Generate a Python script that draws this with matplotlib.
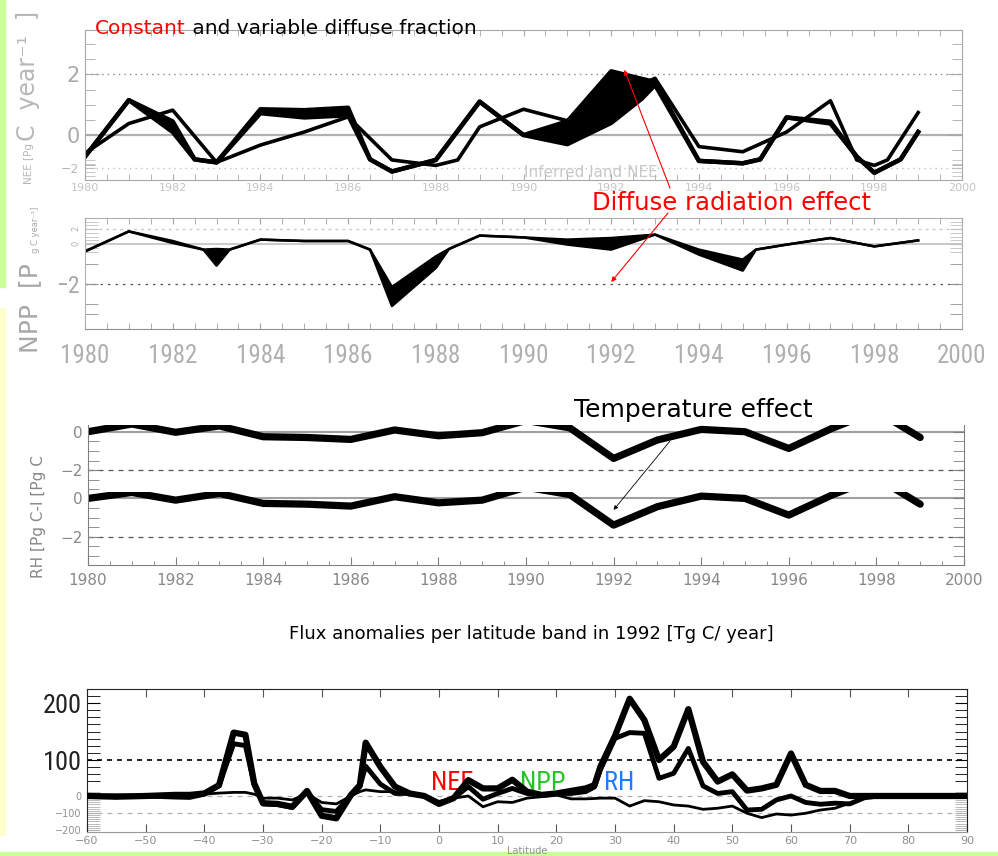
import numpy as np
import matplotlib
matplotlib.use("Agg")
from matplotlib import pyplot as plt
from matplotlib import font_manager
from matplotlib.patches import Rectangle
from matplotlib.ticker import MultipleLocator, FixedLocator

# ---- values ----
# top panel: NEE anomaly [Pg C / yr], constant vs variable diffuse fraction
nee_years = [1980, 1981, 1982, 1982.5, 1983, 1984, 1985, 1986, 1986.5, 1987, 1988, 1989,
             1990, 1991, 1992, 1992.7, 1993, 1994, 1995, 1995.4, 1996, 1997, 1997.6,
             1998, 1998.6, 1999]
nee_const = [-0.71, 1.15, 0.45, -0.8, -0.9, 0.85, 0.82, 0.9, -0.8, -1.2, -0.82, 1.1,
             0.0, 0.45, 2.1, 1.85, 1.75, -0.85, -0.93, -0.8, 0.58, 0.44, -0.71,
             -1.24, -0.8, 0.1]
nee_var = [-0.71, 1.15, 0.1, -0.8, -0.9, 0.72, 0.58, 0.65, -0.8, -1.2, -0.82, 1.1,
           0.0, -0.3, 0.4, 1.2, 1.65, -0.85, -0.93, -0.8, 0.58, 0.38, -0.71,
           -1.24, -0.8, 0.1]
# inferred land NEE
inv_years = [1980, 1981, 1982, 1983, 1984, 1985, 1986, 1987, 1988, 1988.5, 1989, 1990,
             1991, 1992, 1993, 1994, 1995, 1996, 1997, 1997.6, 1998, 1998.3, 1999]
inv_nee = [-0.6, 0.38, 0.82, -0.9, -0.33, 0.1, 0.6, -0.82, -1.0, -0.82, 0.27, 0.85,
           0.47, 1.2, 1.87, -0.38, -0.55, 0.1, 1.13, -0.82, -1.0, -0.82, 0.74]

# NPP panel
npp_years = [1980, 1981, 1982, 1982.7, 1983, 1983.3, 1984, 1985, 1986, 1986.5, 1987, 1988,
             1988.3, 1989, 1990, 1991, 1992, 1993, 1994, 1995, 1995.3, 1996, 1997, 1998, 1999]
npp_const = [-0.37, 0.63, 0.15, -0.28, -0.25, -0.28, 0.22, 0.15, 0.15, -0.28, -2.15, -0.62,
             -0.25, 0.42, 0.33, 0.22, 0.3, 0.47, -0.28, -0.78, -0.28, -0.03, 0.3, -0.12, 0.18]
npp_var = [-0.37, 0.63, 0.05, -0.28, -1.08, -0.28, 0.22, 0.15, 0.15, -0.28, -3.1, -1.2,
           -0.25, 0.42, 0.33, -0.03, -0.28, 0.47, -0.53, -1.33, -0.28, -0.03, 0.3, -0.12, 0.18]

# RH panel (two stacked runs)
rh_years = list(range(1980, 2000))
rh_const = [0.0, 0.4, -0.03, 0.3, -0.26, -0.3, -0.4, 0.09, -0.21, -0.05,
            0.585, 0.2, -1.39, -0.43, 0.12, 0.0, -0.87, 0.19, 1.08, -0.3]
rh_var = [0.0, 0.31, -0.09, 0.26, -0.26, -0.3, -0.4, 0.09, -0.23, -0.09,
          0.585, 0.2, -1.39, -0.43, 0.12, 0.0, -0.87, 0.19, 1.08, -0.3]

# latitude band anomalies 1992 [Tg C / yr]
lat = [-60, -55, -50, -45, -42.5, -40, -37.5, -35, -33, -31.5,
       -30, -27.5, -25, -22.5, -20, -17.5, -15, -13.5, -12.5, -10,
       -7.5, -5, -2.5, 0, 2.5, 5, 7.5, 10, 12.5, 15,
       17.5, 20, 22.5, 25, 26.5, 27.5, 30, 32.5, 35, 37.5,
       40, 42.5, 45, 47.5, 50, 52.5, 55, 57.5, 60, 62.5,
       65, 67.5, 70, 72.5, 75, 80, 85, 90]
flux_1 = [0, -2, 0, 3, 3, 7, 30, 176, 170, 35,
          -20, -22, -30, 14, -55, -62, 3, 30, 148, 81,
          26, 7, 0, -22, -6, 44, 21, 21, 45, 12,
          3, 7, 14, 21, 30, 81, 167, 270, 211, 100,
          137, 241, 95, 40, 60, 15, 21, 31, 118, 31,
          14, 14, 0, 0, 0, 0, 0, 0]
flux_2 = [0, 0, 0, -3, -4, 5, 28, 145, 140, 30,
          -22, -24, -32, 12, -38, -43, 3, 25, 83, 33,
          7, 7, 0, -20, -6, 26, -9, 7, 21, 7,
          3, 7, 7, 12, 25, 72, 160, 176, 174, 49,
          63, 132, 28, 7, 12, -39, -37, -11, 0, -18,
          -23, -20, -22, -5, 0, 0, 0, 0]
flux_3 = [0, 2, 0, 0, 2, 5, 8, 10, 10, 5,
          -6, -6, -11, 7, -18, -22, 0, 12, 17, 12,
          12, 7, 3, -15, -6, 0, -30, -16, -18, -6,
          -2, 3, -8, -8, -7, -6, -6, -28, -13, -16,
          -25, -28, -37, -34, -28, -48, -60, -50, -53, -48,
          -39, -34, -20, -5, 0, 0, 0, 0]

year_ticks = list(range(1980, 2001, 2))
year_labels = [str(y) for y in year_ticks]
lat_ticks = list(range(-60, 91, 10))
lat_labels = [str(v).replace('-', '\u2212') for v in lat_ticks]


def pick_font(names):
    for n in names:
        try:
            font_manager.findfont(n, fallback_to_default=False)
            return n
        except ValueError:
            pass
    return 'DejaVu Sans'


narrow = pick_font(['Liberation Sans Narrow', 'Roboto Condensed', 'Liberation Sans'])

W, H = 998, 856
fig = plt.figure(figsize=(W / 100, H / 100), dpi=100)


def box(x0, y0, x1, y1):
    return [x0 / W, 1 - y1 / H, (x1 - x0) / W, (y1 - y0) / H]


def fpos(x, y):
    return (x / W, 1 - y / H)


def overlay(rect, ylim, xlim):
    ax = fig.add_axes(rect, facecolor='none', zorder=1)
    ax.set_xlim(*xlim)
    ax.set_ylim(*ylim)
    for s in ax.spines.values():
        s.set_visible(False)
    ax.tick_params(axis='x', which='both', bottom=False, top=False, labelbottom=False)
    return ax


# slide decoration strips
for (x0, y0, x1, y1, c) in [(0, 0, 5, 287, '#ccff99'), (0, 308, 5, 835, '#ffffcc'),
                            (0, 852, W, H, '#ccff99')]:
    fig.patches.append(Rectangle(fpos(x0, y1), (x1 - x0) / W, (y1 - y0) / H,
                                 transform=fig.transFigure, color=c, zorder=0))

# ---------------- NEE panel ----------------
ax1 = fig.add_axes(box(85, 30, 962, 180), facecolor='none', zorder=2)
ax1.set_xlim(1980, 2000)
ax1.set_ylim(-1.48, 3.46)
ax1.fill_between(nee_years, nee_const, nee_var, color='black', lw=0)
ax1.plot(nee_years, nee_const, color='black', lw=3.2)
ax1.plot(nee_years, nee_var, color='black', lw=3.2)
ax1.plot(inv_years, inv_nee, color='black', lw=2.6)
ax1.axhline(0, color='#b0b0b0', lw=1.6, zorder=0)
ax1.axhline(2, color='#888888', lw=1.0, ls=(0, (1, 3)), zorder=0)
for s in ax1.spines.values():
    s.set_color('#a8a8a8')
ax1.set_yticks([0, 2], labels=['0', '2'], fontsize=15, color='#aaaaaa')
ax1.yaxis.set_minor_locator(MultipleLocator(0.5))
ax1.set_xticks(year_ticks, labels=year_labels, fontsize=8, color='#c4c4c4')
ax1.xaxis.set_minor_locator(MultipleLocator(0.5))
ax1.tick_params(axis='y', which='both', direction='in', left=True, right=True,
                color='#a8a8a8', pad=4)
ax1.tick_params(axis='y', which='major', length=10)
ax1.tick_params(axis='y', which='minor', length=7)
ax1.tick_params(axis='x', which='both', direction='in', top=True, bottom=True,
                length=4, color='#a8a8a8', pad=2)

ax1b = overlay(box(85, 30, 962, 180), (-2.73, 6.36), (1980, 2000))
ax1b.axhline(-2, color='#c0c0c0', lw=1.0, ls=(0, (1, 3)))
ax1b.set_yticks([-2], labels=['\u22122'], fontsize=9, color='#b8b8b8')
ax1b.yaxis.set_minor_locator(FixedLocator([-2.5, -2.25, -1.75, -1.5]))
ax1b.tick_params(axis='y', which='both', direction='in', left=True, right=True,
                 color='#c0c0c0', length=7, pad=4)
ax1b.text(1990, -2.25, 'Inferred land NEE', fontsize=11, color='#c8c8c8',
          ha='left', va='center')

t = fig.text(95 / W, 1 - 28 / H, 'Constant', color='red', fontsize=14.5, va='center')
ax1.annotate(' and variable diffuse fraction', xy=(1, 0), xycoords=t, va='bottom',
             ha='left', fontsize=14.5, color='black')
fig.text(28 / W, 1 - 141 / H, 'C  year\u207b\u00b9  ]', rotation=90, ha='center',
         va='bottom', fontsize=17, color='#b8b8b8')
fig.text(29 / W, 1 - 184 / H, 'NEE [Pg', rotation=90, ha='center', va='bottom',
         fontsize=7.5, color='#b8b8b8')

# ---------------- NPP panel ----------------
ax2 = fig.add_axes(box(85, 218, 962, 329), facecolor='none', zorder=2)
ax2.set_xlim(1980, 2000)
ax2.set_ylim(-4.25, 1.3)
ax2.fill_between(npp_years, npp_const, npp_var, color='black', lw=0)
ax2.plot(npp_years, npp_const, color='black', lw=1.8)
ax2.plot(npp_years, npp_var, color='black', lw=1.8)
ax2.axhline(0, color='#c0c0c0', lw=1.2, zorder=0)
ax2.axhline(-2, color='#555555', lw=0.9, ls=(0, (2, 4)), zorder=0)
for s in ax2.spines.values():
    s.set_color('#b0b0b0')
ax2.spines['bottom'].set_color('#909090')
ax2.set_yticks([-2], labels=['\u22122'], fontsize=17, color='#a8a8a8', family=narrow)
ax2.yaxis.set_minor_locator(FixedLocator([-3.5, -3, -1]))
ax2.set_xticks(year_ticks, labels=year_labels, fontsize=18, color='#b0b0b0', family=narrow)
ax2.xaxis.set_minor_locator(MultipleLocator(0.5))
ax2.tick_params(axis='y', which='both', direction='in', left=True, right=True,
                color='#909090', length=9, pad=4)
ax2.tick_params(axis='x', which='both', direction='in', top=True, bottom=True,
                length=4, color='#a0a0a0', pad=11)

ax2b = overlay(box(85, 218, 962, 329), (-11.33, 3.47), (1980, 2000))
ax2b.axhline(2, color='#c8c8c8', lw=1.0, ls=(0, (2, 3)))
ax2b.set_yticks([0, 2], labels=['0', '2'], fontsize=6, color='#b0b0b0', rotation=90)
ax2b.yaxis.set_minor_locator(FixedLocator(np.arange(-1, 3.1, 0.5)))
ax2b.tick_params(axis='y', which='both', direction='in', left=True, right=True,
                 color='#c0c0c0', length=9, pad=3)

fig.text(30 / W, 1 - 353 / H, 'NPP  [P', rotation=90, ha='center', va='bottom',
         fontsize=18, color='#a8a8a8')
fig.text(36 / W, 1 - 253 / H, 'g C year\u207b\u00b9]', rotation=90, ha='center',
         va='bottom', fontsize=6, color='#a8a8a8')

fig.text(731 / W, 1 - 203 / H, 'Diffuse radiation effect', color='red', fontsize=17.5,
         ha='center', va='center')
ax1.annotate('', xy=(1992.3, 2.15), xytext=fpos(670, 188), textcoords='figure fraction',
             arrowprops=dict(arrowstyle='-|>', color='red', lw=0.8, mutation_scale=7,
                             shrinkA=0, shrinkB=0))
ax2.annotate('', xy=(1992, -1.9), xytext=fpos(668, 213), textcoords='figure fraction',
             arrowprops=dict(arrowstyle='-|>', color='red', lw=0.8, mutation_scale=7,
                             shrinkA=0, shrinkB=0))

# ---------------- RH panel ----------------
ax3u = fig.add_axes(box(88, 425, 964, 491.7), facecolor='none', zorder=2)
ax3l = fig.add_axes(box(88, 491.7, 964, 565), facecolor='none', zorder=2)
for ax, vals, ylim in [(ax3u, rh_const, (-3.12, 0.35)), (ax3l, rh_var, (-3.47, 0.35))]:
    ax.set_xlim(1980, 2000)
    ax.set_ylim(*ylim)
    ax.plot(rh_years, vals, color='black', lw=5.2, solid_capstyle='round',
            solid_joinstyle='round')
    ax.axhline(0, color='#a0a0a0', lw=1.5, zorder=0)
    ax.axhline(-2, color='#555555', lw=0.9, ls=(0, (4, 4)), zorder=0)
    ax.spines['top'].set_visible(False)
    for s in ['left', 'right', 'bottom']:
        ax.spines[s].set_color('#808080')
    ax.set_yticks([0, -2], labels=['0', '\u22122'], fontsize=11, color='#888888')
    ax.yaxis.set_minor_locator(MultipleLocator(0.5))
    ax.tick_params(axis='y', which='both', direction='in', left=True, right=True,
                   color='#808080', length=8, pad=4)
ax3u.spines['bottom'].set_visible(False)
ax3u.tick_params(axis='x', which='both', bottom=False, labelbottom=False)
ax3l.set_xticks(year_ticks, labels=year_labels, fontsize=11, color='#888888')
ax3l.xaxis.set_minor_locator(MultipleLocator(0.5))
ax3l.tick_params(axis='x', which='major', direction='in', length=6, color='#808080', pad=6)
ax3l.tick_params(axis='x', which='minor', direction='in', length=3, color='#808080')

fig.text(38 / W, 1 - 578 / H, 'RH [Pg C-I [Pg C', rotation=90, ha='center', va='bottom',
         fontsize=11, color='#888888')
fig.text(693 / W, 1 - 410 / H, 'Temperature effect', fontsize=18, ha='center', va='center')
ax3l.annotate('', xy=(1992, -0.6), xytext=fpos(670, 441), textcoords='figure fraction',
              arrowprops=dict(arrowstyle='-|>', color='black', lw=0.6, mutation_scale=6,
                              shrinkA=0, shrinkB=0))

# ---------------- latitude panel ----------------
fig.text(531 / W, 1 - 634 / H, 'Flux anomalies per latitude band in 1992 [Tg C/ year]',
         ha='center', va='center', fontsize=13)

ax4 = fig.add_axes(box(87, 689, 967, 832), facecolor='none', zorder=2)
ax4.set_xlim(-60, 90)
ax4.set_ylim(-100, 297)
ax4.plot(lat, flux_3, color='black', lw=2, zorder=3)
ax4.plot(lat, flux_2, color='black', lw=3.5, zorder=3)
ax4.plot(lat, flux_1, color='black', lw=4.5, zorder=3)
ax4.axhline(100, color='black', lw=1.2, ls=(0, (3, 3)), zorder=1)
for s in ['top', 'left', 'right']:
    ax4.spines[s].set_color('#222222')
ax4.spines['bottom'].set_color('#999999')
ax4.set_yticks([])
ax4.set_xticks(lat_ticks, labels=lat_labels, fontsize=8, color='#909090')
ax4.tick_params(axis='x', direction='in', top=True, bottom=True, length=6,
                color='#555555', pad=3)
ax4.set_xlabel('Latitude', fontsize=7, color='#909090', labelpad=0)
ax4.text(2.2, 36, 'NEE', color='red', fontsize=19, ha='center', va='center',
         family=narrow, zorder=1)
ax4.text(17.7, 36, 'NPP', color='#22c422', fontsize=19, ha='center', va='center',
         family=narrow, zorder=1)
ax4.text(30.7, 36, 'RH', color='#1f7bff', fontsize=19, ha='center', va='center',
         family=narrow, zorder=1)

ax4b = overlay(box(87, 689, 967, 832), (-26.3, 224.6), (-60, 90))
ax4b.set_yticks([100, 200], labels=['100', '200'], fontsize=19, color='#222222',
                family=narrow)
ax4b.yaxis.set_minor_locator(FixedLocator(np.arange(62.5, 225, 12.5)))
ax4b.tick_params(axis='y', which='both', direction='in', left=True, right=True,
                 color='black', length=9, pad=4)

ax4s = overlay(box(87, 689, 967, 832), (-212, 630), (-60, 90))
ax4s.axhline(0, color='#b0b0b0', lw=0.9, ls=(0, (4, 4)))
ax4s.axhline(-100, color='#b0b0b0', lw=0.9, ls=(0, (4, 4)))
ax4s.set_yticks([0, -100, -200], labels=['0', '\u2212100', '\u2212200'], fontsize=7,
                color='#909090')
ax4s.yaxis.set_minor_locator(FixedLocator(np.arange(-200, 26, 12.5)))
ax4s.tick_params(axis='y', which='both', direction='in', left=True, right=True,
                 color='#b0b0b0', length=9, pad=4)

fig.savefig('out.png', dpi=100)
